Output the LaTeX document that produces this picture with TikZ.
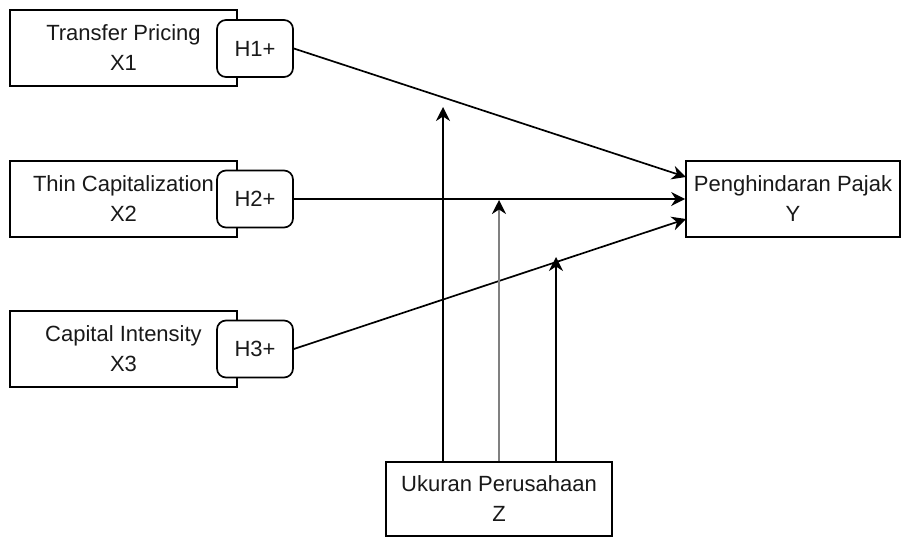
\documentclass[tikz,border=0pt]{standalone}
\usepackage{fontspec}
\setmainfont{Liberation Sans}
\usetikzlibrary{arrows.meta}
\begin{document}
\begin{tikzpicture}[x=1pt,y=-1pt,
  box/.style={draw=black,fill=white,line width=1.7pt,inner sep=0pt,align=center,
    font=\fontsize{22}{30}\selectfont,text=black!90},
  hyp/.style={box,rounded corners=9pt,minimum width=76pt,minimum height=57pt},
  var/.style={box,minimum width=227pt,minimum height=76pt},
  conn/.style={line width=1.7pt,-{Stealth[length=14pt,width=14pt,inset=4.5pt,color=black]}}]
\useasboundingbox (0,0) rectangle (901,536);
\node[var] (x1) at (123.5,48) {Transfer Pricing\\X1};
\node[var] (x2) at (123.5,199) {Thin Capitalization\\X2};
\node[var] (x3) at (123.5,349) {Capital Intensity\\X3};
\node[hyp] (h1) at (255,48.5) {H1+};
\node[hyp] (h2) at (255,199) {H2+};
\node[hyp] (h3) at (255,349) {H3+};
\node[var,minimum width=214pt] (y) at (793,199) {Penghindaran Pajak\\Y};
\node[var,minimum width=226pt,minimum height=74pt] (z) at (499,499) {Ukuran Perusahaan\\Z};
\coordinate (y1) at (686,177);
\coordinate (y3) at (686,219);
\coordinate (t1) at (443,107);
\coordinate (t2) at (499,200);
\coordinate (t3) at (556,257);
\draw[conn] (h1.east) -- (y1);
\draw[conn] (h2.east) -- (y.west);
\draw[conn] (h3.east) -- (y3);
\draw[conn] (z.north -| t1) -- (t1);
\draw[conn,draw=black!50,line width=2pt] (z.north -| t2) -- (t2);
\draw[conn] (z.north -| t3) -- (t3);
\end{tikzpicture}
\end{document}
